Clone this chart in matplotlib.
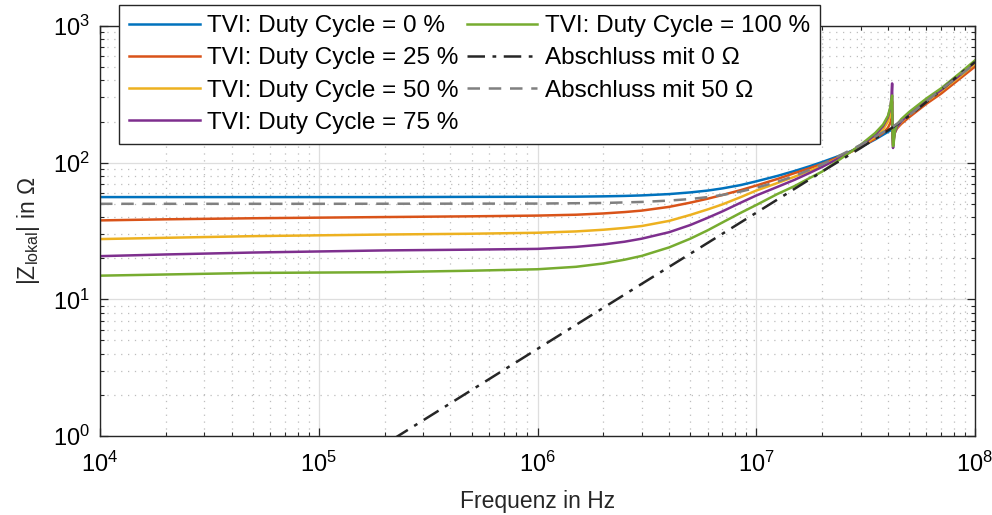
import matplotlib
matplotlib.use("Agg")
import matplotlib.pyplot as plt
from matplotlib.ticker import LogLocator, NullFormatter

plt.rcParams['font.family'] = ['Liberation Sans', 'DejaVu Sans']
plt.rcParams['mathtext.fontset'] = 'custom'
plt.rcParams['mathtext.rm'] = 'Liberation Sans'
plt.rcParams['mathtext.it'] = 'Liberation Sans:italic'
plt.rcParams['mathtext.bf'] = 'Liberation Sans:bold'

# Frequenzstuetzstellen (Hz) fuer die TVI-Kurven
freq = [1e4, 2e4, 5e4, 1e5, 2e5, 5e5, 1e6, 1.5e6, 2e6, 2.5e6, 3e6, 4e6, 5e6, 6e6,
        7e6, 8.5e6, 1e7, 1.25e7, 1.5e7, 1.75e7, 2e7, 2.5e7, 3e7, 3.5e7, 3.8e7,
        4.0e7, 4.1e7, 4.15e7, 4.18e7, 4.2e7, 4.22e7, 4.25e7, 4.3e7, 4.4e7, 4.6e7,
        5e7, 6e7, 7e7, 8.5e7, 1e8]

z_dc0 = [56, 56, 56, 56, 56, 56.2, 56.3, 56.4, 56.7, 57.1, 57.6, 58.9, 60.6, 62.5,
         64.8, 68.6, 73, 80, 87, 94, 101, 115, 130, 148, 160,
         168, 172, 174, 175, 176, 177, 179, 182, 190, 203,
         228, 285, 340, 430, 530]
z_dc25 = [37.8, 38.5, 39.2, 39.6, 40, 40.5, 41, 41.6, 42.5, 43.5, 44.6, 47.5, 51, 54.5,
          58, 63, 68, 76, 84, 91, 98, 113, 130, 150, 165,
          180, 195, 210, 225, 160, 150, 160, 168, 178, 192,
          215, 270, 320, 410, 505]
z_dc50 = [27.6, 28.2, 29, 29.4, 29.8, 30.2, 30.7, 31.4, 32.3, 33.3, 34.4, 37.5, 41.5, 45.5,
          49.5, 56, 62.5, 71, 79, 87, 95, 112, 131, 155, 175,
          200, 225, 250, 280, 150, 135, 150, 165, 180, 198,
          225, 280, 335, 425, 530]
z_dc75 = [20.7, 21.3, 22, 22.4, 22.8, 23.1, 23.4, 24.2, 25.2, 26.4, 27.8, 31, 35, 39.5,
          44, 51, 57.5, 66.5, 75, 84, 93, 112, 133, 160, 185,
          215, 250, 300, 380, 150, 128, 145, 165, 182, 200,
          228, 285, 340, 435, 545]
z_dc100 = [14.9, 15.2, 15.6, 15.7, 15.8, 16.2, 16.6, 17.3, 18.3, 19.5, 20.8, 24, 27.8, 32,
           36.5, 43, 49, 59, 67.5, 77, 86, 110, 135, 165, 190,
           220, 255, 290, 310, 160, 132, 140, 170, 190, 208,
           235, 295, 350, 450, 560]

# Abschluss mit 0 Ohm
freq_0 = [1e4, 1e5, 1e6, 3e6, 1e7, 2e7, 3e7, 4.2e7, 5e7, 6.7e7, 8.6e7, 1e8]
z_0 = [0.0434, 0.434, 4.34, 13, 43, 86, 128, 181, 220, 320, 450, 545]

# Abschluss mit 50 Ohm
freq_50 = [1e4, 1e5, 1e6, 2e6, 3e6, 4e6, 5e6, 6e6, 7e6, 8.5e6, 1e7, 1.25e7, 1.5e7,
           2e7, 3e7, 4.2e7, 5e7, 6.7e7, 1e8]
z_50 = [50, 50, 50.2, 50.7, 51.6, 52.8, 54.2, 56, 58, 61.5, 65.5, 72.5, 80,
        97, 135, 183, 222, 325, 530]

series = [
    (z_dc0, 'TVI: Duty Cycle = 0 %', '#0072BD'),
    (z_dc25, 'TVI: Duty Cycle = 25 %', '#D95319'),
    (z_dc50, 'TVI: Duty Cycle = 50 %', '#EDB120'),
    (z_dc75, 'TVI: Duty Cycle = 75 %', '#7E2F8E'),
    (z_dc100, 'TVI: Duty Cycle = 100 %', '#77AC30'),
]

fig = plt.figure(figsize=(9.92, 5.15), dpi=100)
ax = fig.add_axes([100 / 992, 1 - 436 / 515, 875 / 992, 410 / 515])

for z, lab, col in series:
    ax.plot(freq, z, color=col, lw=1.8, label=lab)
ax.plot(freq_0, z_0, color='#262626', lw=1.8, ls=(0, (7, 3, 1.5, 3)), label='Abschluss mit 0 Ω')
ax.plot(freq_50, z_50, color='#808080', lw=1.8, ls=(0, (5, 3.5)), label='Abschluss mit 50 Ω')

ax.set_xscale('log')
ax.set_yscale('log')
ax.set_xlim(1e4, 1e8)
ax.set_ylim(1, 1e3)

ax.xaxis.set_major_locator(LogLocator(base=10, numticks=10))
ax.yaxis.set_major_locator(LogLocator(base=10, numticks=10))
ax.xaxis.set_minor_locator(LogLocator(base=10, subs=range(2, 10), numticks=20))
ax.yaxis.set_minor_locator(LogLocator(base=10, subs=range(2, 10), numticks=20))
ax.xaxis.set_minor_formatter(NullFormatter())
ax.yaxis.set_minor_formatter(NullFormatter())

ax.grid(True, which='major', color='#dedede', lw=0.9, ls='-')
ax.grid(True, which='minor', color='#bdbdbd', lw=0.9, ls=(0, (1, 4.5)))
ax.set_axisbelow(True)

ax.tick_params(which='both', direction='in', top=True, right=True, labelsize=17,
               color='#262626', labelcolor='black')
ax.tick_params(which='major', length=6, width=0.9)
ax.tick_params(which='minor', length=3, width=0.8)
ax.tick_params(axis='x', which='major', pad=11)
ax.tick_params(axis='y', which='major', pad=7)
for s in ax.spines.values():
    s.set_color('#262626')
    s.set_linewidth(1.0)

ax.set_xlabel('Frequenz in Hz', fontsize=16.5, color='#262626', labelpad=10)
ax.set_ylabel(r'$|\mathrm{Z}_{\mathrm{lokal}}|$ in $\Omega$', fontsize=16.5, color='#262626', labelpad=8)

leg = fig.legend(loc='upper left', bbox_to_anchor=(119 / 992, 1 - 5 / 515), ncol=2,
                 fontsize=17.5, frameon=True, fancybox=False, edgecolor='#262626',
                 framealpha=1, handlelength=2.9, handletextpad=0.3, columnspacing=0.35,
                 labelspacing=0.42, borderpad=0.42, borderaxespad=0)
leg.get_frame().set_linewidth(1.0)

fig.savefig('out.png', dpi=100)
